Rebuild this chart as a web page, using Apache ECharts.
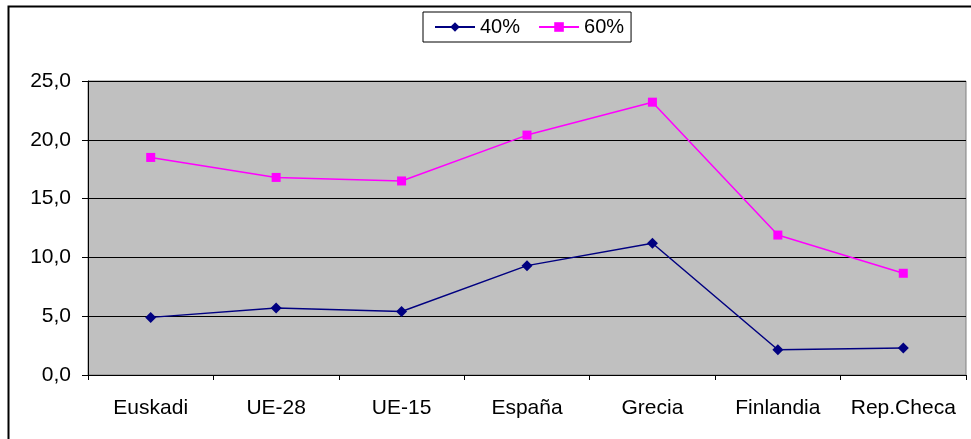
<!DOCTYPE html>
<html>
<head>
<meta charset="utf-8">
<script src="https://cdn.jsdelivr.net/npm/echarts@6/dist/echarts.min.js"></script>
<style>
  html, body { margin: 0; padding: 0; background: #fff; }
  #chart { width: 971px; height: 439px; }
</style>
</head>
<body>
<div id="chart"></div>
<script>
const categories = ['Euskadi', 'UE-28', 'UE-15', 'España', 'Grecia', 'Finlandia', 'Rep.Checa']
const values40 = [4.9, 5.7, 5.4, 9.3, 11.2, 2.15, 2.3]
const values60 = [18.5, 16.8, 16.5, 20.4, 23.2, 11.9, 8.65]
const yTicks = { min: 0, max: 25, interval: 5 }

const chart = echarts.init(document.getElementById('chart'))

const fmt = v => v.toFixed(1).replace('.', ',')

const option = {
  animation: false,
  textStyle: { fontFamily: 'Liberation Sans, Arial, sans-serif' },
  graphic: [{
    type: 'rect',
    shape: { x: 8.5, y: 6.5, width: 980, height: 450 },
    style: { fill: 'none', stroke: '#000', lineWidth: 2 },
    silent: true
  }],
  legend: {
    top: 12,
    left: 423,
    itemGap: 18,
    itemWidth: 40,
    itemHeight: 12,
    padding: [5, 7, 5, 11],
    borderColor: '#000',
    borderWidth: 1,
    backgroundColor: '#fff',
    textStyle: { fontSize: 20, color: '#000' },
    data: ['40%', '60%']
  },
  grid: {
    left: 88, right: 5, top: 81, bottom: 64,
    show: true,
    backgroundColor: '#C0C0C0',
    borderColor: '#808080',
    borderWidth: 1
  },
  xAxis: {
    type: 'category',
    data: categories,
    boundaryGap: true,
    axisLine: { lineStyle: { color: '#000', width: 1 } },
    axisTick: { show: true, alignWithLabel: false, length: 5, lineStyle: { color: '#000' } },
    axisLabel: { color: '#000', fontSize: 21, margin: 23, interval: 0, hideOverlap: false }
  },
  yAxis: {
    type: 'value',
    min: yTicks.min,
    max: yTicks.max,
    interval: yTicks.interval,
    axisLine: { show: true, lineStyle: { color: '#000', width: 1 } },
    axisTick: { show: true, length: 6, lineStyle: { color: '#000' } },
    axisLabel: { color: '#000', fontSize: 21, margin: 17, formatter: fmt },
    splitLine: { show: true, lineStyle: { color: '#000', width: 1 } }
  },
  series: [
    {
      name: '40%',
      type: 'line',
      data: values40,
      symbol: 'diamond',
      symbolSize: 11,
      lineStyle: { color: '#000080', width: 1.5 },
      itemStyle: { color: '#000080' }
    },
    {
      name: '60%',
      type: 'line',
      data: values60,
      symbol: 'rect',
      symbolSize: 9,
      lineStyle: { color: '#FF00FF', width: 1.5 },
      itemStyle: { color: '#FF00FF' }
    }
  ]
}

chart.setOption(option)
</script>
</body>
</html>
